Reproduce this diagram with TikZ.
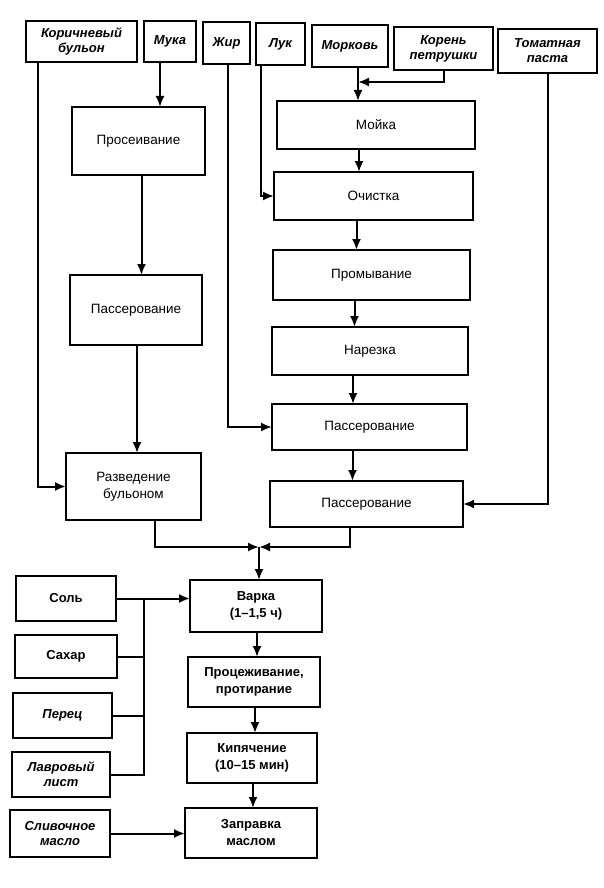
\documentclass[tikz,border=0pt]{standalone}
\usepackage{fontspec}
\setmainfont{Liberation Sans}
\usetikzlibrary{arrows.meta}
\begin{document}
\begin{tikzpicture}[x=1pt,y=-1pt,
  box/.style={draw, line width=2pt, inner sep=1pt, align=center, outer sep=0pt},
  inbox/.style={box, font=\fontsize{13}{15}\selectfont\bfseries\itshape},
  upbox/.style={box, font=\fontsize{13}{15}\selectfont\bfseries},
  proc/.style={box, font=\fontsize{13.5}{17}\selectfont},
  procb/.style={box, font=\fontsize{13}{17}\selectfont\bfseries},
  arr/.style={line width=2pt, -{Latex[length=11pt,width=9pt]}},
  ln/.style={line width=2pt},
]
\fill[white] (0,0) rectangle (603,888);
\useasboundingbox (0,0) rectangle (603,888);

% top inputs
\node[inbox, minimum width=111pt, minimum height=41pt] (kb) at (81.5,41.5) {Коричневый\\бульон};
\node[inbox, minimum width=52pt, minimum height=41pt] (muka) at (170,41.5) {Мука};
\node[inbox, minimum width=47pt, minimum height=42pt] (zhir) at (226.5,43) {Жир};
\node[inbox, minimum width=49pt, minimum height=42pt] (luk) at (280.5,44) {Лук};
\node[inbox, minimum width=76pt, minimum height=42pt] (morkov) at (350,46) {Морковь};
\node[inbox, minimum width=99pt, minimum height=43pt] (koren) at (443.5,48.5) {Корень\\петрушки};
\node[inbox, minimum width=99pt, minimum height=44pt] (tomat) at (547.5,51) {Томатная\\паста};

% left chain
\node[proc, minimum width=133pt, minimum height=68pt] (pros) at (138.5,141) {Просеивание};
\node[proc, minimum width=132pt, minimum height=70pt] (pass1) at (136,310) {Пассерование};
\node[proc, minimum width=135pt, minimum height=67pt] (razv) at (133.5,486.5) {Разведение\\бульоном};

% right chain
\node[proc, minimum width=198pt, minimum height=48pt] (moika) at (376,125) {Мойка};
\node[proc, minimum width=199pt, minimum height=48pt] (ochist) at (373.5,196) {Очистка};
\node[proc, minimum width=197pt, minimum height=50pt] (promyv) at (371.5,275) {Промывание};
\node[proc, minimum width=196pt, minimum height=48pt] (narez) at (370,351) {Нарезка};
\node[proc, minimum width=195pt, minimum height=46pt] (passA) at (369.5,427) {Пассерование};
\node[proc, minimum width=193pt, minimum height=46pt] (passB) at (366.5,504) {Пассерование};

% bottom inputs
\node[upbox, minimum width=100pt, minimum height=45pt] (sol) at (66,598.5) {Соль};
\node[upbox, minimum width=102pt, minimum height=43pt] (sahar) at (66,656.5) {Сахар};
\node[inbox, minimum width=99pt, minimum height=45pt] (perec) at (62.5,715.5) {Перец};
\node[inbox, minimum width=98pt, minimum height=45pt] (lavr) at (61,774.5) {Лавровый\\лист};
\node[inbox, minimum width=100pt, minimum height=47pt] (slivm) at (60,833.5) {Сливочное\\масло};

% bottom chain
\node[procb, minimum width=132pt, minimum height=52pt] (varka) at (256,606) {Варка\\(1–1,5 ч)};
\node[procb, minimum width=132pt, minimum height=50pt] (procz) at (254,682) {Процеживание,\\протирание};
\node[procb, minimum width=130pt, minimum height=50pt] (kip) at (252,758) {Кипячение\\(10–15 мин)};
\node[procb, minimum width=132pt, minimum height=50pt] (zapr) at (251,833) {Заправка\\маслом};

% helper coordinates
\coordinate (kj) at (358,82);
\coordinate (J) at (259,547);
\coordinate (bus) at (144,598.5);

% top connectors
\draw[arr] ([xshift=12pt]kb.south west) |- (razv.west);
\draw[arr] ([xshift=-10pt]muka.south) -- ([xshift=-10pt]muka.south |- pros.north);
\draw[arr] ([xshift=1.5pt]zhir.south) |- (passA.west);
\draw[arr] ([xshift=-19.5pt]luk.south) |- (ochist.west);
\draw[arr] ([xshift=8pt]morkov.south) -- ([xshift=8pt]morkov.south |- moika.north);
\draw[arr] (koren.south) |- (kj);
\draw[arr] (tomat.south) |- (passB.east);

% left chain
\draw[arr] ([xshift=3pt]pros.south) -- ([xshift=3pt]pros.south |- pass1.north);
\draw[arr] ([xshift=1pt]pass1.south) -- ([xshift=1pt]pass1.south |- razv.north);

% right chain
\draw[arr] ([xshift=-17pt]moika.south) -- ([xshift=-17pt]moika.south |- ochist.north);
\draw[arr] ([xshift=-17pt]ochist.south) -- ([xshift=-17pt]ochist.south |- promyv.north);
\draw[arr] ([xshift=-17pt]promyv.south) -- ([xshift=-17pt]promyv.south |- narez.north);
\draw[arr] ([xshift=-17pt]narez.south) -- ([xshift=-17pt]narez.south |- passA.north);
\draw[arr] ([xshift=-17pt]passA.south) -- ([xshift=-17pt]passA.south |- passB.north);

% junction
\draw[arr] ([xshift=21.5pt]razv.south) |- (J);
\draw[arr] ([xshift=-16.5pt]passB.south) |- (J);
\draw[arr] (J) -- (J |- varka.north);

% bottom inputs
\draw[arr] (sol.east) -- (sol.east -| varka.west);
\draw[ln] (lavr.east) -| (bus);
\draw[ln] (sahar.east) -- (sahar.east -| bus);
\draw[ln] (perec.east) -- (perec.east -| bus);
\draw[arr] (slivm.east) -- (slivm.east -| zapr.west);

% bottom chain
\draw[arr] ([xshift=1pt]varka.south) -- ([xshift=1pt]varka.south |- procz.north);
\draw[arr] ([xshift=1pt]procz.south) -- ([xshift=1pt]procz.south |- kip.north);
\draw[arr] ([xshift=1pt]kip.south) -- ([xshift=1pt]kip.south |- zapr.north);
\end{tikzpicture}
\end{document}
